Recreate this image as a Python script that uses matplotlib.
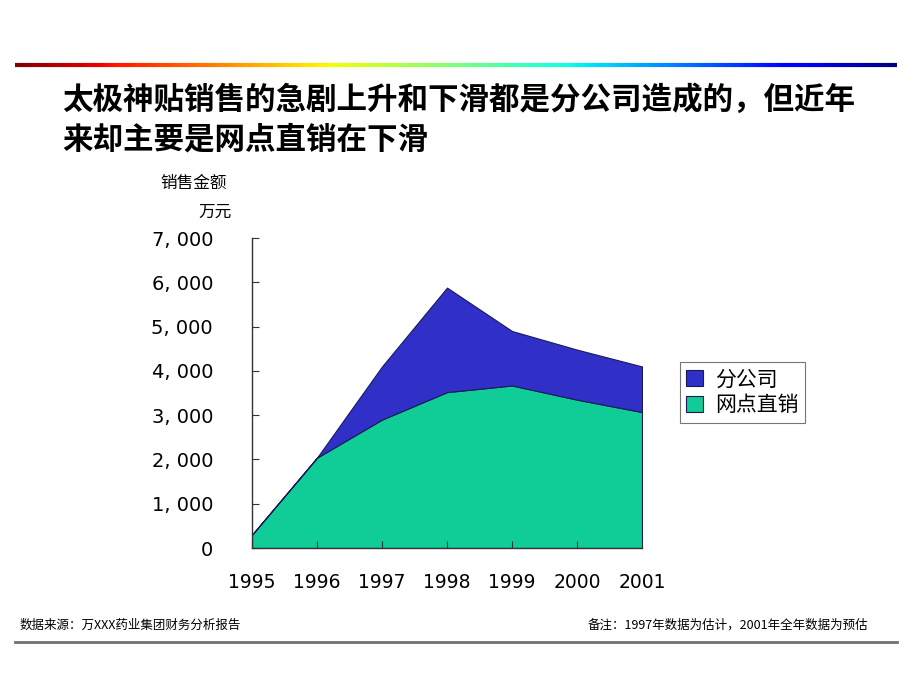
import matplotlib.pyplot as plt
import numpy as np
from matplotlib.collections import LineCollection

plt.rcParams['font.family'] = ['Noto Sans CJK SC', 'DejaVu Sans']

# data (万元)
years = [1995, 1996, 1997, 1998, 1999, 2000, 2001]
direct_sales = [300, 2040, 2900, 3520, 3670, 3350, 3070]   # 网点直销
branch_sales = [0, 0, 1200, 2360, 1230, 1130, 1030]         # 分公司
y_ticks = [0, 1000, 2000, 3000, 4000, 5000, 6000, 7000]

title = "太极神贴销售的急剧上升和下滑都是分公司造成的，但近年\n来却主要是网点直销在下滑"
source = "数据来源：万XXX药业集团财务分析报告"
note = "备注：1997年数据为估计，2001年全年数据为预估"

green = "#10CC96"
blue = "#3030C8"
edge = "#1A1A5A"

fig = plt.figure(figsize=(9.2, 6.9), dpi=100)

# rainbow rule at the top, gray rule at the bottom
line_ax = fig.add_axes([0, 0, 1, 1], zorder=-1)
line_ax.set_xlim(0, 920)
line_ax.set_ylim(690, 0)
line_ax.axis('off')
xs = np.linspace(15, 897, 300)
segs = [[(xs[i], 65), (xs[i + 1], 65)] for i in range(len(xs) - 1)]
lc = LineCollection(segs, cmap='jet_r', linewidths=3)
lc.set_array(np.linspace(0, 1, len(segs)))
line_ax.add_collection(lc)
line_ax.plot([15, 897], [642, 642], color="#707070", lw=2)

fig.text(62 / 920, 1 - 84 / 690, title, fontsize=22, fontweight='bold',
         va='top', ha='left', linespacing=1.3)

fig.text(160 / 920, 1 - 183 / 690, "销售金额", fontsize=12, va='center', ha='left')
fig.text(232 / 920, 1 - 212 / 690, "万元", fontsize=12, va='center', ha='right')

fig.text(20 / 920, 1 - 625 / 690, source, fontsize=9, va='center', ha='left')
fig.text(868 / 920, 1 - 625 / 690, note, fontsize=9, va='center', ha='right')

ax = fig.add_axes([252 / 920, 1 - 548 / 690, 390 / 920, 310 / 690])
ax.stackplot(years, direct_sales, branch_sales,
             colors=[green, blue], labels=["网点直销", "分公司"],
             edgecolor=edge, linewidth=0.8)
ax.set_xlim(years[0], years[-1])
ax.set_ylim(0, 7000)
ax.set_yticks(y_ticks)
ax.set_yticklabels([f"{v:,}".replace(",", ", ") for v in y_ticks],
                   fontsize=14, family='DejaVu Sans')
ax.set_xticks(years)
ax.set_xticklabels([str(y) for y in years], fontsize=13.5, family='DejaVu Sans')
ax.tick_params(axis='y', direction='in', length=5, pad=28, color='#333333')
ax.tick_params(axis='x', direction='in', length=5, pad=18, color='#333333')
for s in ['top', 'right']:
    ax.spines[s].set_visible(False)
for s in ['left', 'bottom']:
    ax.spines[s].set_color('#333333')
    ax.spines[s].set_linewidth(1)

handles, labels = ax.get_legend_handles_labels()
leg = fig.legend(handles[::-1], labels[::-1], loc='upper left',
                 bbox_to_anchor=(680 / 920, 1 - 362 / 690), fontsize=15,
                 frameon=True, fancybox=False, edgecolor='#555555',
                 handlelength=0.8, handleheight=0.8, handletextpad=0.6,
                 borderpad=0.3, labelspacing=0.2, borderaxespad=0)
leg.get_frame().set_linewidth(0.8)

fig.savefig("out.png", dpi=100)
